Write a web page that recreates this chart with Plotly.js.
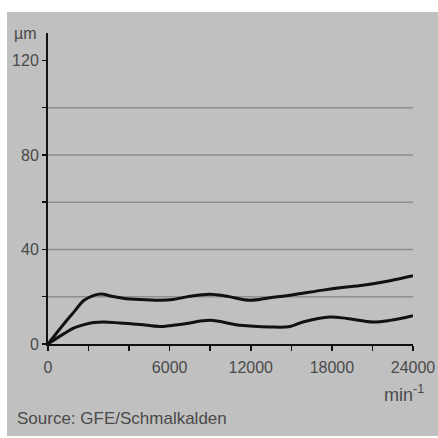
<!DOCTYPE html>
<html>
<head>
<meta charset="utf-8">
<script src="https://cdn.plot.ly/plotly-3.0.1.min.js"></script>
<style>
  html, body { margin: 0; padding: 0; background: #ffffff; width: 438px; height: 438px; overflow: hidden; }
  #chart { position: absolute; left: 7px; top: 12px; width: 431px; height: 424px; }
</style>
</head>
<body>
<div id="chart"></div>
<script>
// Speed (as drawn along the axis) and deviation values in µm
const upperX = [0, 1052, 1710, 2367, 3024, 3485, 4208, 4931, 6049, 7364, 8219, 9337, 10652, 11769, 13282, 14597, 15912, 18082, 19200, 20712, 22487, 24000];
const upperY = [0, 8.6, 13.6, 18.5, 20.6, 21.2, 20.2, 19.4, 18.8, 18.5, 18.8, 20.2, 21.1, 20.2, 18.5, 19.6, 20.6, 22.8, 23.8, 24.9, 26.8, 28.9];

const lowerX = [0, 1052, 1710, 2367, 3024, 3682, 4734, 6049, 7364, 9008, 10652, 12624, 14597, 15912, 16766, 18542, 19659, 21369, 22487, 24000];
const lowerY = [0, 4.4, 6.8, 8.2, 9.1, 9.3, 8.9, 8.3, 7.4, 8.6, 10.0, 7.9, 7.2, 7.4, 9.3, 11.4, 10.8, 9.3, 10.0, 12.0];

// Axis labels as printed on the original
const xTickVals = [0, 8000, 13333, 18667, 24000];
const xTickText = ['0', '6000', '12000', '18000', '24000'];
const yTickVals = [0, 40, 80, 120];
const yTickText = ['0', '40', '80', '120'];
const yGridVals = [20, 40, 60, 80, 100];

const FONT = '"Liberation Sans", Arial, sans-serif';
const TXT = '#4a4a4a';

const lineStyle = { color: '#111111', width: 3, shape: 'spline', smoothing: 1 };

const traces = [
  { x: upperX, y: upperY, type: 'scatter', mode: 'lines', line: lineStyle, hoverinfo: 'skip' },
  { x: lowerX, y: lowerY, type: 'scatter', mode: 'lines', line: lineStyle, hoverinfo: 'skip' }
];

const shapes = yGridVals.map(v => ({
  type: 'line', xref: 'paper', yref: 'y', x0: 0, x1: 1, y0: v, y1: v,
  line: { color: '#8e8e8e', width: 1.6 }, layer: 'below'
}));

const layout = {
  width: 431, height: 424,
  margin: { l: 41, r: 25, t: 21, b: 92, pad: 0 },
  paper_bgcolor: '#c0c0c0',
  plot_bgcolor: '#c0c0c0',
  showlegend: false,
  font: { family: FONT, size: 16, color: TXT },
  xaxis: {
    range: [0, 24000],
    tickmode: 'array', tickvals: xTickVals, ticktext: xTickText,
    ticks: 'outside', ticklen: 5, tickwidth: 1.5, tickcolor: '#111',
    ticklabelstandoff: 3,
    minor: { dtick: 24000 / 9, tick0: 0, ticks: 'outside', ticklen: 5, tickwidth: 1.5, tickcolor: '#111', showgrid: false },
    showgrid: false, zeroline: false,
    showline: true, linecolor: '#111', linewidth: 2,
    tickfont: { family: FONT, size: 16, color: TXT },
    fixedrange: true
  },
  yaxis: {
    range: [0, 131.6],
    tickmode: 'array', tickvals: yTickVals, ticktext: yTickText,
    ticks: 'outside', ticklen: 4, tickwidth: 1.5, tickcolor: '#111',
    minor: { dtick: 20, tick0: 0, ticks: 'outside', ticklen: 4, tickwidth: 1.5, tickcolor: '#111', showgrid: false },
    showgrid: false, zeroline: false,
    showline: true, linecolor: '#111', linewidth: 2,
    tickfont: { family: FONT, size: 16, color: TXT },
    fixedrange: true
  },
  shapes: shapes,
  annotations: [
    { text: 'µm', xref: 'paper', yref: 'paper', x: -0.025, y: 1.0, xanchor: 'right', yanchor: 'middle',
      showarrow: false, font: { family: FONT, size: 16, color: TXT } },
    { text: 'min<sup>-1</sup>', xref: 'paper', yref: 'paper', x: 0.975, y: -0.16, xanchor: 'center', yanchor: 'middle',
      showarrow: false, font: { family: FONT, size: 18, color: TXT } },
    { text: 'Source: GFE/Schmalkalden', xref: 'paper', yref: 'paper', x: -0.09, y: -0.238, xanchor: 'left', yanchor: 'middle',
      showarrow: false, font: { family: FONT, size: 17, color: TXT } }
  ]
};

Plotly.newPlot('chart', traces, layout, { displayModeBar: false, staticPlot: true });
</script>
</body>
</html>
